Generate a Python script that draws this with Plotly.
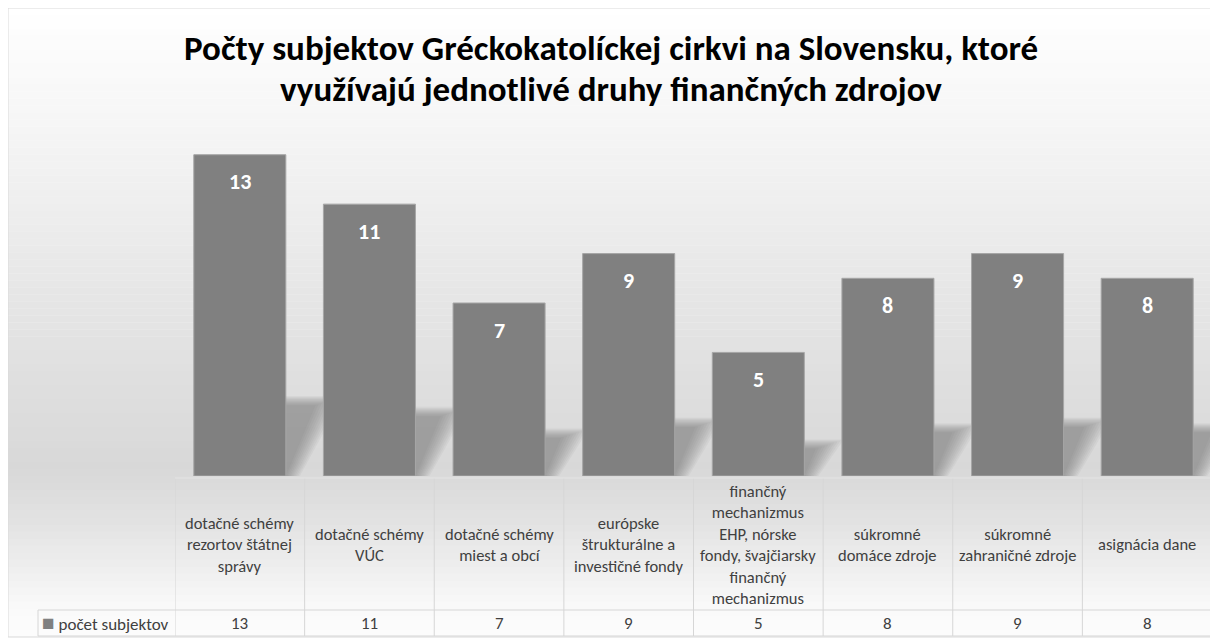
import plotly.graph_objects as go

categories = [
    "dotačné schémy<br>rezortov štátnej<br>správy",
    "dotačné schémy<br>VÚC",
    "dotačné schémy<br>miest a obcí",
    "európske<br>štrukturálne a<br>investičné fondy",
    "finančný<br>mechanizmus<br>EHP, nórske<br>fondy, švajčiarsky<br>finančný<br>mechanizmus",
    "súkromné<br>domáce zdroje",
    "súkromné<br>zahraničné zdroje",
    "asignácia dane",
]
values = [13, 11, 7, 9, 5, 8, 9, 8]
series_name = "počet subjektov"
title_lines = [
    "Počty subjektov Gréckokatolíckej cirkvi na Slovensku, ktoré",
    "využívajú jednotlivé druhy finančných zdrojov",
]

# the page body has an 8px margin, so the figure is drawn 8px smaller
OFF = 8
W, H = 1218 - OFF, 640 - OFF
# plot area in screen pixels: x 175..1212, y 130..476
L, R, T, B = 175 - OFF, W - (1212 - OFF), 130 - OFF, H - (476 - OFF)
PW, PH = W - L - R, H - T - B


def px(x):
    # screen pixel -> paper x
    return (x - OFF - L) / PW


def py(y):
    # screen pixel -> paper y
    return (H - B - (y - OFF)) / PH


FONT = "Carlito, Calibri, Lato, sans-serif"
BAR_W = 0.71
idx = list(range(len(values)))

fig = go.Figure()
fig.add_trace(go.Bar(
    x=idx, y=values, width=BAR_W, name=series_name,
    marker=dict(color="#808080", line=dict(color="#a6a6a6", width=1)),
    hoverinfo="y",
))

shapes = []

# background gradient (white -> gray -> white), drawn as thin strips
stops = [(8, 255), (130, 245), (260, 233), (380, 223), (470, 216),
         (520, 226), (575, 240), (610, 250), (637, 252)]
n = 90
top, bot = 8, 637
for k in range(n):
    y0 = top + (bot - top) * k / n
    y1 = top + (bot - top) * (k + 1) / n
    ym = (y0 + y1) / 2
    for (a, ca), (b, cb) in zip(stops, stops[1:]):
        if a <= ym <= b:
            c = round(ca + (cb - ca) * (ym - a) / (b - a))
            break
    shapes.append(dict(type="rect", xref="paper", yref="paper", layer="below",
                       x0=px(8), x1=px(1214), y0=py(y1), y1=py(y0) + 0.001,
                       fillcolor=f"rgb({c},{c},{c})", line=dict(width=0)))

# soft perspective shadows behind the bars (stacked translucent layers = blur)
for i, v in zip(idx, values):
    h = 0.22 * v
    dx = 0.0176 * v
    for s in range(10):
        spread = 0.012 * (9 - s)
        x0 = i - BAR_W / 2
        x1 = i + BAR_W / 2 + spread
        ht = h + spread * 3.5
        path = (f"M {x0},0 L {x1},0 L {x1 + dx + spread},{ht} "
                f"L {x0 + dx},{ht} Z")
        shapes.append(dict(type="path", xref="x", yref="y", layer="below",
                           path=path, fillcolor="rgba(110,110,110,0.065)",
                           line=dict(width=0)))

# table lines
line_c = "#d6d6d6"
y_head_top, y_row, y_bot = py(478), py(610), py(636)
for i in range(len(values) + 1):
    shapes.append(dict(type="line", xref="x", yref="paper", x0=i - 0.5, x1=i - 0.5,
                       y0=y_head_top, y1=y_bot, line=dict(color=line_c, width=1)))
shapes.append(dict(type="line", xref="paper", yref="paper", x0=px(38), x1=1,
                   y0=y_row, y1=y_row, line=dict(color=line_c, width=1)))
shapes.append(dict(type="line", xref="paper", yref="paper", x0=px(38), x1=1,
                   y0=y_bot, y1=y_bot, line=dict(color=line_c, width=1)))
shapes.append(dict(type="line", xref="paper", yref="paper", x0=px(38), x1=px(38),
                   y0=y_row, y1=y_bot, line=dict(color=line_c, width=1)))
shapes.append(dict(type="line", xref="paper", yref="paper", x0=0, x1=1,
                   y0=y_head_top, y1=y_head_top, line=dict(color="#e4e4e4", width=1)))
# chart border
shapes.append(dict(type="rect", xref="paper", yref="paper", x0=px(8), x1=px(1214),
                   y0=py(637), y1=py(8), line=dict(color="#d9d9d9", width=1)))

annotations = []
for k, t in enumerate(title_lines):
    annotations.append(dict(text=f"<b>{t}</b>", xref="paper", yref="paper",
                            x=px(611), y=py(48 + 41 * k), showarrow=False,
                            font=dict(family=FONT, size=35, color="#000000"),
                            xanchor="center", yanchor="middle"))
for i, (c, v) in enumerate(zip(categories, values)):
    annotations.append(dict(text=f"<b>{v}</b>", x=i, y=v, xref="x", yref="y",
                            yshift=-27, showarrow=False,
                            font=dict(family=FONT, size=22, color="#ffffff")))
    annotations.append(dict(text=c, x=i, y=py(544), xref="x", yref="paper",
                            showarrow=False, yanchor="middle",
                            font=dict(family=FONT, size=16.5, color="#404040")))
    annotations.append(dict(text=str(v), x=i, y=py(623), xref="x", yref="paper",
                            showarrow=False, yanchor="middle",
                            font=dict(family=FONT, size=17, color="#404040")))
annotations.append(dict(
    text=f"<span style='color:#808080;font-size:21px'>■</span> {series_name}",
    x=px(40), y=py(623), xref="paper", yref="paper",
    xanchor="left", yanchor="middle", showarrow=False,
    font=dict(family=FONT, size=17, color="#404040")))

fig.update_layout(
    width=W, height=H,
    margin=dict(l=L, r=R, t=T, b=B),
    paper_bgcolor="#ffffff",
    plot_bgcolor="rgba(0,0,0,0)",
    showlegend=False,
    shapes=shapes,
    annotations=annotations,
    xaxis=dict(range=[-0.5, len(values) - 0.5], showticklabels=False,
               showgrid=False, zeroline=False, fixedrange=True),
    yaxis=dict(range=[0, 14], showticklabels=False, showgrid=False,
               zeroline=False, fixedrange=True),
)

fig.write_html("out.html")
